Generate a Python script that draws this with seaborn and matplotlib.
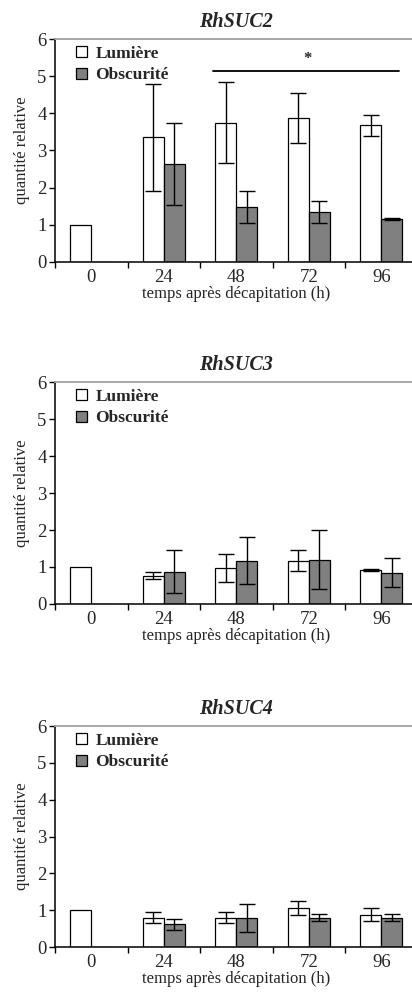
import numpy as np
import pandas as pd
import seaborn as sns
import matplotlib.pyplot as plt

# temps après décapitation (h)
temps = ['0', '24', '48', '72', '96']
groupes = ['Lumière', 'Obscurité']
genes = ['RhSUC2', 'RhSUC3', 'RhSUC4']

# RhSUC2
suc2_lum = [1.0, 3.35, 3.75, 3.87, 3.68]
suc2_lum_err = [0, 1.44, 1.09, 0.67, 0.28]
suc2_obs = [0.0, 2.63, 1.48, 1.34, 1.15]
suc2_obs_err = [0, 1.10, 0.42, 0.30, 0.03]

# RhSUC3
suc3_lum = [1.0, 0.77, 0.98, 1.17, 0.91]
suc3_lum_err = [0, 0.10, 0.38, 0.29, 0.03]
suc3_obs = [0.0, 0.87, 1.17, 1.20, 0.85]
suc3_obs_err = [0, 0.58, 0.64, 0.80, 0.40]

# RhSUC4
suc4_lum = [1.0, 0.80, 0.80, 1.05, 0.88]
suc4_lum_err = [0, 0.15, 0.16, 0.19, 0.18]
suc4_obs = [0.0, 0.62, 0.80, 0.80, 0.80]
suc4_obs_err = [0, 0.15, 0.38, 0.10, 0.10]

# ligne de significativité sur RhSUC2
sig_x = [1.68, 4.25]
sig_y = 5.14
sig_star = (2.98, 5.45)

valeurs = {
    'RhSUC2': (suc2_lum, suc2_lum_err, suc2_obs, suc2_obs_err),
    'RhSUC3': (suc3_lum, suc3_lum_err, suc3_obs, suc3_obs_err),
    'RhSUC4': (suc4_lum, suc4_lum_err, suc4_obs, suc4_obs_err),
}

sns.set_style('white')
plt.rcParams['font.family'] = ['Liberation Serif', 'DejaVu Serif']

fig = plt.figure(figsize=(4.12, 9.98), dpi=100)

# position des axes (gauche, bas, largeur, hauteur) en fraction de la figure
positions = [
    (0.1335, 0.7375, 0.88, 0.2234),
    (0.1335, 0.3948, 0.88, 0.2224),
    (0.1335, 0.0511, 0.88, 0.2214),
]

couleurs = {'Lumière': 'white', 'Obscurité': '#808080'}

for gene, pos in zip(genes, positions):
    lum, lum_err, obs, obs_err = valeurs[gene]
    df = pd.DataFrame({
        'temps': temps * 2,
        'groupe': ['Lumière'] * 5 + ['Obscurité'] * 5,
        'quantite': lum + obs,
    })
    ax = fig.add_axes(pos)
    sns.barplot(data=df, x='temps', y='quantite', hue='groupe', order=temps,
                hue_order=groupes, palette=couleurs, width=0.58,
                edgecolor='black', linewidth=0.9, errorbar=None, ax=ax)

    # barres d'erreur
    for cont, errs in zip(ax.containers, [lum_err, obs_err]):
        for bar, e in zip(cont, errs):
            if e <= 0:
                continue
            xc = bar.get_x() + bar.get_width() / 2
            ax.errorbar(xc, bar.get_height(), yerr=e, color='black',
                        capsize=5.5, elinewidth=1.0, capthick=1.0, fmt='none')

    ax.set_xlim(-0.5, 4.5)
    ax.set_ylim(0, 6)
    ax.set_yticks(range(0, 7))
    ax.set_xticks(range(5))
    ax.set_xticks(np.arange(-0.5, 5, 1), minor=True)
    ax.tick_params(axis='x', which='major', length=0, labelsize=13.5, pad=5)
    ax.tick_params(axis='x', which='minor', length=4, width=1, direction='out',
                   color='black', bottom=True)
    ax.tick_params(axis='y', length=4, width=1, direction='out', left=True,
                   labelsize=13.5, pad=2, color='black')

    for s in ['left', 'bottom']:
        ax.spines[s].set_color('black')
        ax.spines[s].set_linewidth(1.1)
    ax.spines['top'].set_color('#a0a0a0')
    ax.spines['top'].set_linewidth(1.3)
    ax.spines['right'].set_visible(False)

    ax.set_title(gene, fontsize=14.5, fontweight='bold', style='italic', pad=9)
    ax.set_ylabel('quantité relative', fontsize=12, labelpad=5)
    ax.set_xlabel('temps après décapitation (h)', fontsize=12, labelpad=0)

    leg = ax.legend(loc='upper left', frameon=False, handlelength=0.6,
                    handleheight=0.6, handletextpad=0.5, labelspacing=0.3,
                    borderaxespad=0.0, bbox_to_anchor=(0.04, 1.0),
                    prop={'weight': 'bold', 'size': 12.5})
    for h in leg.legend_handles:
        h.set_edgecolor('black')
        h.set_linewidth(0.9)

    if gene == 'RhSUC2':
        ax.plot(sig_x, [sig_y, sig_y], color='black', lw=1.3)
        ax.text(sig_star[0], sig_star[1], '*', ha='center', va='center',
                fontsize=12, fontweight='bold')

fig.savefig('out.png', dpi=100)
